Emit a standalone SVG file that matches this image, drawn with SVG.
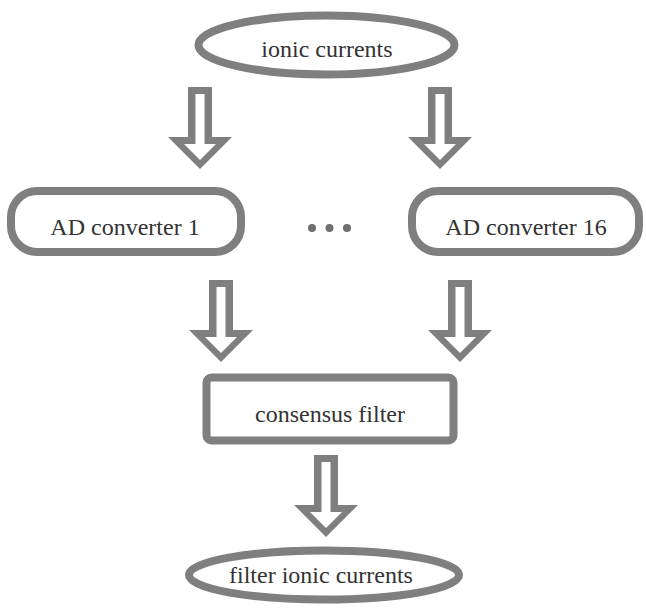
<svg xmlns="http://www.w3.org/2000/svg" xmlns:xlink="http://www.w3.org/1999/xlink" width="646" height="616" viewBox="0 0 646 616">
<style>
.shape{fill:none;stroke:#7f7f7f;stroke-width:8}
.lbl{font-family:"Liberation Serif","Times New Roman",serif;font-size:24px;fill:#333;text-anchor:middle}
.dot{fill:#6f6f6f}
.arr{fill:#7f7f7f;fill-rule:evenodd}
</style>
<defs>
<path id="blockArrow" class="arr" d="M-12,0 H12 V50 H32 L0,82 L-32,50 H-12 Z M-4.5,7 V57 H-16 L0,73 L16,57 H4.5 V7 Z"/>
</defs>
<rect width="646" height="616" fill="#fff"/>
<g id="connectors">
<use xlink:href="#blockArrow" transform="translate(200,87)"/>
<use xlink:href="#blockArrow" transform="translate(440,87)"/>
<use xlink:href="#blockArrow" transform="translate(221,280)"/>
<use xlink:href="#blockArrow" transform="translate(460,280)"/>
<use xlink:href="#blockArrow" transform="translate(326,455)"/>
</g>
<g id="ionic-currents">
<ellipse class="shape" cx="326.5" cy="45" rx="128" ry="29.5" stroke-width="7"/>
<text class="lbl" x="327" y="57">ionic currents</text>
</g>
<g id="ad-converter-1">
<rect class="shape" x="11" y="191" width="230" height="61" rx="26"/>
<text class="lbl" x="125" y="235">AD converter 1</text>
</g>
<g id="ellipsis">
<circle class="dot" cx="312" cy="228" r="4"/>
<circle class="dot" cx="329.5" cy="228" r="4"/>
<circle class="dot" cx="347" cy="228" r="4"/>
</g>
<g id="ad-converter-16">
<rect class="shape" x="412" y="191" width="227" height="61" rx="26"/>
<text class="lbl" x="526" y="235">AD converter 16</text>
</g>
<g id="consensus-filter">
<rect class="shape" x="206.5" y="377.5" width="247" height="63" rx="5" stroke-width="9"/>
<text class="lbl" x="330" y="422">consensus filter</text>
</g>
<g id="filter-ionic-currents">
<ellipse class="shape" cx="324" cy="575" rx="135" ry="24.5" stroke-width="7"/>
<text class="lbl" x="321" y="583">filter ionic currents</text>
</g>
</svg>
